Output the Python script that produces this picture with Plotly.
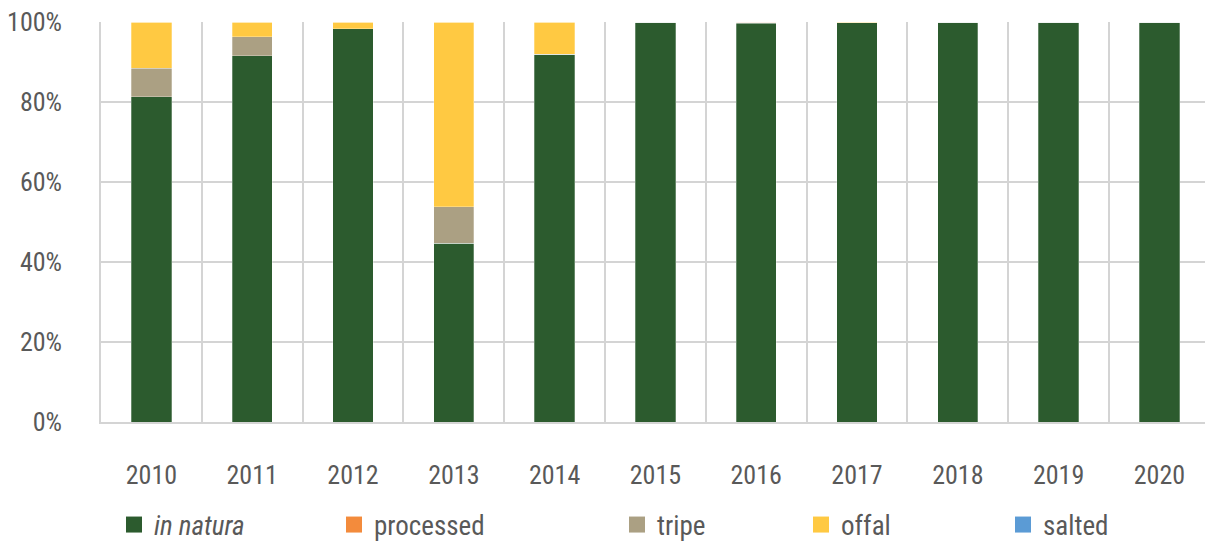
"""Stacked 100% column chart by product type."""

import plotly.graph_objects as go

_FAMILY = "Roboto Condensed, Liberation Sans Narrow, DejaVu Sans Condensed, sans-serif"
_FONT = dict(family=_FAMILY, size=26, color="#595959")
_LEG_FONT = dict(family=_FAMILY, size=27, color="#595959")
_GRID = "#d4d4d4"

years = ["2010", "2011", "2012", "2013", "2014", "2015", "2016", "2017", "2018", "2019", "2020"]
in_natura = [81.3, 91.6, 98.3, 44.7, 92.0, 100.0, 99.7, 99.8, 100.0, 100.0, 100.0]
processed = [0, 0, 0, 0, 0, 0, 0.3, 0, 0, 0, 0]
tripe = [7.1, 4.7, 0, 9.1, 0, 0, 0, 0, 0, 0, 0]
offal = [11.6, 3.7, 1.7, 46.2, 8.0, 0, 0, 0.2, 0, 0, 0]
salted = [0, 0, 0, 0, 0, 0, 0, 0, 0, 0, 0]

series = [
    ("<i>in natura</i>", in_natura, "#2c5b2e"),
    ("processed", processed, "#f38b3c"),
    ("tripe", tripe, "#aba083"),
    ("offal", offal, "#ffc942"),
    ("salted", salted, "#5b9bd5"),
]

# legend marker centres (px) as in the original layout
legend_px = [134, 354, 637, 821, 1023]
LEGEND_Y = 525

W, H = 1206, 542
L, T, R = 101, 22, 1
B = H - 422  # bottom of plot area at y=422
PLOT_W = W - L - R
PLOT_H = H - T - B
CAT_PX = 100.8  # category width in the original; the last one runs past the edge

fig = go.Figure()
for i, (name, vals, color) in enumerate(series):
    lg = "legend" if i == 0 else f"legend{i + 1}"
    fig.add_trace(go.Bar(
        x=years, y=vals, name=name, showlegend=False,
        marker=dict(color=color, line=dict(color="rgba(255,255,255,0.35)", width=0.8)),
    ))
    # legend-only entry with a larger square swatch
    fig.add_trace(go.Scatter(
        x=[None], y=[None], name=name, mode="markers", legend=lg,
        marker=dict(symbol="square", size=18, color=color),
    ))

layout_legends = {}
for i, px_x in enumerate(legend_px):
    key = "legend" if i == 0 else f"legend{i + 1}"
    layout_legends[key] = dict(
        x=(px_x - 20 - L) / PLOT_W, xanchor="left",
        y=-(LEGEND_Y - T - PLOT_H) / PLOT_H, yanchor="middle",
        orientation="h", font=_LEG_FONT, bgcolor="rgba(0,0,0,0)",
    )

fig.update_layout(
    barmode="stack", bargap=0.6,
    font=_FONT,
    width=W, height=H,
    margin=dict(l=L, r=R, t=T, b=B, autoexpand=False),
    plot_bgcolor="white", paper_bgcolor="white",
    showlegend=True,
    **layout_legends,
)
fig.update_xaxes(
    type="category", categoryorder="array", categoryarray=years,
    range=[-0.5, -0.5 + PLOT_W / CAT_PX],
    tickson="boundaries", showgrid=True, gridcolor=_GRID, gridwidth=1.5,
    ticks="", showline=True, linecolor=_GRID, linewidth=1.5, ticklabelstandoff=29,
    automargin=False,
)
fig.update_yaxes(
    range=[0, 100], dtick=20, ticksuffix="%", showgrid=True, gridcolor=_GRID, gridwidth=1.5,
    zeroline=False, ticks="", ticklabelstandoff=32, automargin=False,
    showline=True, linecolor=_GRID, linewidth=1.5,
)

# drop the default body margin so the figure sits at the window's corner
fig.write_html(
    "out.html",
    config={"displayModeBar": False},
    post_script="document.body.style.margin='0';",
)
